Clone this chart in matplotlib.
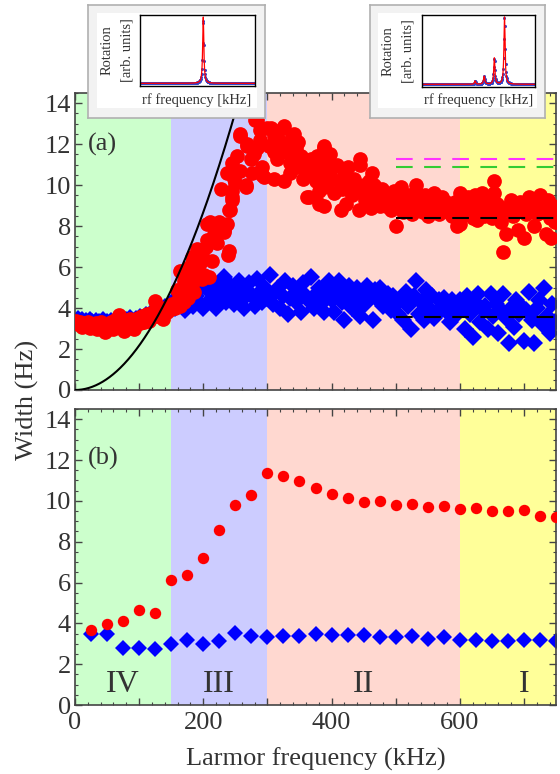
import numpy as np
import matplotlib
matplotlib.use('Agg')
import matplotlib.pyplot as plt
from matplotlib.ticker import MultipleLocator, FuncFormatter

plt.rcParams['font.family'] = ['Liberation Serif', 'DejaVu Serif']

# regions of the Larmor frequency axis (kHz)
region_edges = [0, 150, 300, 600, 800]
region_names = ['IV', 'III', 'II', 'I']
region_colors = ['#ccffcc', '#ccccff', '#ffd8d0', '#ffff99']

# panel (a): single measurements, low-frequency part (x on a 3 kHz grid)
low_x = np.arange(2, 150, 3)
red_low_y = [3.35, 3.2, 3.3, 3.1, 3.25, 3.15, 3.3, 3.05, 3.2, 3.1,
             3.25, 3.0, 3.15, 3.3, 3.05, 2.85, 3.2, 3.1, 3.3, 3.0,
             3.4, 3.15, 3.65, 3.2, 3.05, 2.9, 3.3, 3.1, 3.45, 3.2,
             3.0, 3.35, 3.5, 3.25, 3.6, 3.3, 3.45, 3.7, 3.35, 3.55,
             3.8, 4.35, 3.6, 3.9, 3.7, 3.45, 4.0, 3.8, 4.1, 3.95]
blue_low_y = [3.3, 3.45, 3.25, 3.4, 3.15, 3.35, 3.2, 3.4, 3.3, 3.15,
              3.35, 3.1, 3.3, 3.2, 3.4, 3.0, 3.3, 3.2, 3.35, 3.1,
              3.3, 3.4, 3.25, 3.15, 3.35, 3.0, 3.4, 3.25, 3.5, 3.3,
              3.1, 3.45, 3.35, 3.55, 3.45, 3.35, 3.65, 3.5, 3.45, 3.75,
              3.6, 3.85, 3.7, 3.8, 3.95, 3.65, 4.05, 3.9, 4.15, 3.95]

# red points in region III
red_iii_x = [152, 156, 159, 160, 163, 164, 166, 170, 170, 173,
             175, 176, 178, 180, 182, 183, 185, 185, 188, 190,
             192, 195, 198, 201, 201, 204, 206, 206, 209, 211,
             214, 216, 221, 222, 224, 224, 227, 232, 232, 237,
             237, 239, 240, 240, 242, 245, 245, 245, 245, 248,
             250, 253, 258, 258, 258, 266, 266, 268, 268, 274,
             276, 279, 281, 284, 284, 289, 289, 292, 292, 294]
red_iii_y = [4.2, 4.0, 4.9, 4.4, 4.1, 5.8, 4.6, 4.3, 5.3, 4.8,
             5.7, 4.5, 6.0, 5.0, 6.5, 5.6, 5.3, 4.8, 6.1, 6.9,
             5.8, 6.2, 5.4, 6.4, 5.6, 7.0, 7.3, 8.1, 5.5, 8.2,
             6.3, 7.6, 7.2, 7.7, 8.2, 7.9, 9.8, 7.7, 7.8, 8.1,
             10.6, 6.6, 8.8, 6.8, 8.8, 9.3, 9.7, 9.4, 11.1, 10.3,
             10.1, 11.4, 10.7, 12.4, 12.5, 10.0, 9.9, 11.9, 12.0, 11.3,
             10.6, 11.5, 13.2, 11.8, 13.2, 12.7, 12.2, 10.9, 10.5, 10.4]

# red points in region II
red_ii_x = [300, 305, 310, 310, 310, 315, 320, 325, 326, 326,
            331, 336, 336, 339, 341, 341, 345, 350, 352, 357,
            360, 362, 362, 365, 368, 373, 375, 380, 380, 383,
            388, 388, 388, 388, 388, 388, 393, 398, 398, 404,
            409, 414, 419, 422, 424, 428, 432, 435, 440, 443,
            445, 445, 450, 452, 456, 461, 463, 466, 470, 474,
            478, 482, 485, 487, 490, 493, 497, 500, 502, 505,
            508, 511, 514, 518, 521, 525, 528, 531, 534, 537,
            539, 542, 545, 548, 550, 553, 556, 560, 562, 565,
            568, 572, 575, 578, 581, 584, 588, 592, 594, 596, 599,
            303, 318, 329, 344, 348, 355, 370, 377, 395, 402,
            412, 417, 426, 437, 448, 458, 468, 476, 495]
red_ii_y = [12.8, 12.8, 12.4, 11.6, 10.3, 11.3, 11.7, 12.8, 12.9, 10.2,
            11.6, 11.1, 10.6, 12.4, 12.5, 11.5, 11.8, 11.2, 11.4, 11.0,
            10.8, 10.5, 9.4, 9.4, 11.3, 11.0, 10.2, 9.7, 9.1, 10.5,
            11.8, 10.9, 11.9, 11.2, 9.9, 9.0, 10.0, 11.5, 10.5, 9.6,
            11.0, 8.8, 10.5, 9.1, 9.8, 10.1, 9.5, 10.3, 9.7, 8.8,
            11.3, 11.0, 10.0, 9.3, 9.7, 8.9, 10.6, 10.0, 9.4, 9.6,
            9.8, 9.2, 9.0, 9.5, 9.3, 8.8, 9.7, 8.0, 9.1, 9.4,
            9.9, 8.7, 9.2, 9.0, 9.5, 8.6, 9.3, 10.0, 8.9, 9.4,
            9.2, 8.7, 9.5, 9.0, 8.5, 9.3, 8.8, 9.6, 9.1, 9.0,
            8.6, 9.4, 8.9, 9.2, 8.7, 9.0, 8.5, 9.2, 8.8, 8.0, 9.0,
            11.9, 12.2, 12.0, 10.9, 12.1, 10.3, 10.7, 11.4, 10.8, 10.9,
            10.2, 9.8, 10.9, 9.9, 9.6, 10.2, 9.5, 9.0, 9.2]

# red points in region I
red_i_x = [601, 601, 601, 605, 610, 613, 617, 620, 624, 627,
           627, 631, 635, 638, 643, 646, 650, 654, 654, 654,
           658, 662, 664, 667, 669, 672, 676, 680, 683, 687,
           690, 694, 698, 700, 704, 708, 711, 714, 716, 719,
           721, 725, 729, 734, 737, 740, 742, 742, 746, 749]
red_i_y = [9.6, 8.8, 8.1, 9.2, 8.6, 9.4, 9.0, 8.4, 9.5, 9.3,
           8.3, 8.9, 9.6, 8.5, 8.9, 9.2, 8.4, 10.2, 9.6, 8.6,
           9.1, 8.8, 8.2, 6.75, 8.8, 7.6, 9.0, 9.3, 8.5, 8.9,
           7.8, 9.2, 9.0, 7.4, 8.6, 9.4, 9.3, 8.8, 8.0, 9.1,
           8.6, 9.5, 8.7, 7.6, 9.3, 8.4, 8.8, 7.4, 9.0, 8.2]

# blue points above 150 kHz (x on a 4 kHz grid)
high_x = np.arange(152, 749, 4)
blue_high_y = [4.3, 4.0, 4.5, 4.2, 4.7, 3.9, 4.4, 4.8, 4.1, 4.6, 4.3, 5.0, 4.0,
               4.2, 4.9, 5.3, 4.5, 4.0, 5.0, 4.6, 5.5, 4.3, 4.8,
               5.1, 4.2, 4.7, 5.3, 4.4, 4.0, 4.9, 5.2, 4.6, 4.1,
               5.4, 4.8, 4.3, 5.0, 4.5,
               5.6, 4.2, 4.8, 5.0, 4.0, 4.6, 5.3, 3.7, 4.5, 5.1,
               4.3, 4.9, 3.8, 5.2, 4.6, 4.4, 5.5, 4.0, 4.7, 5.0,
               4.2, 3.8, 4.8, 5.3, 4.4,
               3.8, 4.9, 5.3, 4.3, 3.4, 4.7, 5.1, 4.0, 4.5, 5.0,
               3.6, 4.8, 4.2, 5.1, 4.6, 3.4, 4.9, 4.4, 5.0, 4.1,
               4.3, 4.7, 3.9, 4.6, 4.2,
               3.7, 4.5, 3.4, 4.8, 4.1, 3.0, 4.6, 5.3, 3.7, 4.3,
               3.4, 4.9, 4.0, 4.6, 3.5, 3.7, 4.4, 4.1, 4.5, 3.8,
               3.3, 4.4, 3.6, 4.0, 4.4,
               4.1, 3.0, 4.6, 3.7, 2.6, 4.3, 4.7, 3.3, 3.9, 4.1,
               3.0, 4.7, 3.6, 4.2, 2.8, 3.9, 4.7, 3.5, 2.3, 4.0,
               3.1, 4.4, 3.7, 4.1, 2.4, 3.9, 4.8, 3.4, 2.3, 4.0,
               4.4, 3.2, 5.0, 3.6, 2.8, 4.2, 3.3]

# quadratic model curve, width = coef * f^2
curve_coef = 2.17e-4

# dashed reference levels (x from 500 kHz)
level_start = 500
level_values = [11.3, 10.9, 8.4, 3.55]
level_colors = ['#ff33ff', '#33cc33', 'black', 'black']

# panel (b): averaged widths
larmor_b = np.arange(25, 751, 25)
red_b = [3.66, 3.98, 4.1, 4.63, 4.52, 6.13, 6.37, 7.2, 8.58, 9.8,
         10.3, 11.38, 11.22, 10.98, 10.65, 10.36, 10.13, 9.92, 9.97, 9.8,
         9.84, 9.71, 9.76, 9.59, 9.63, 9.48, 9.51, 9.54, 9.25, 9.22]
blue_b = [3.5, 3.5, 2.81, 2.81, 2.73, 3.0, 3.17, 3.0, 3.14, 3.53,
          3.37, 3.33, 3.38, 3.38, 3.46, 3.41, 3.41, 3.41, 3.33, 3.33,
          3.37, 3.25, 3.33, 3.2, 3.2, 3.14, 3.14, 3.17, 3.2, 3.14]

# inset spectra: lorentzian peaks (centre, height, half width) in relative rf units
left_peaks = [(0.55, 1.0, 0.006)]
right_peaks = [(0.47, 0.05, 0.006), (0.55, 0.12, 0.007), (0.64, 0.39, 0.006), (0.73, 1.0, 0.006)]

W, H = 560, 774
text_col = '#333333'


def px_box(x0, y0, x1, y1):
    return [x0 / W, 1 - y1 / H, (x1 - x0) / W, (y1 - y0) / H]


def style_axes(ax, show_xlabels):
    for i in range(len(region_names)):
        ax.axvspan(region_edges[i], region_edges[i + 1], color=region_colors[i], lw=0, zorder=0)
    ax.set_xlim(0, 750)
    ax.set_ylim(0, 14.5)
    ax.xaxis.set_major_locator(MultipleLocator(100))
    ax.xaxis.set_minor_locator(MultipleLocator(20))
    ax.yaxis.set_major_locator(MultipleLocator(2))
    ax.yaxis.set_minor_locator(MultipleLocator(0.5))
    ax.xaxis.set_major_formatter(FuncFormatter(
        lambda v, p: f'{v:.0f}' if (show_xlabels and abs(v % 200) < 1e-6) else ''))
    ax.tick_params(which='both', direction='in', top=True, right=True,
                   colors='#444444', labelcolor=text_col, labelsize=19)
    ax.tick_params(which='major', length=5, width=1)
    ax.tick_params(which='minor', length=2.5, width=0.8)
    ax.tick_params(axis='y', pad=3)
    ax.tick_params(axis='x', pad=5)
    for s in ax.spines.values():
        s.set_color('#444444')
        s.set_linewidth(1.2)


fig = plt.figure(figsize=(W / 100, H / 100), dpi=100)

ax_a = fig.add_axes(px_box(75, 93, 556, 390))
ax_b = fig.add_axes(px_box(75, 409, 556, 705))
style_axes(ax_a, False)
style_axes(ax_b, True)

# panel (a)
ax_a.plot(low_x, blue_low_y, 'D', color='#0000ff', ms=9.6, mew=0, zorder=2)
ax_a.plot(high_x, blue_high_y, 'D', color='#0000ff', ms=9.6, mew=0, zorder=2)
for xs, ys in [(low_x, red_low_y), (red_iii_x, red_iii_y), (red_ii_x, red_ii_y), (red_i_x, red_i_y)]:
    ax_a.plot(xs, ys, 'o', color='#ff0000', ms=10.6, mew=0, zorder=3)

f_curve = np.linspace(0, 270, 300)
ax_a.plot(f_curve, curve_coef * f_curve ** 2, color='black', lw=1.5, zorder=4)
for lvl, col in zip(level_values, level_colors):
    ax_a.plot([level_start, 750], [lvl, lvl], color=col, lw=1.5, dashes=(8, 5.5), zorder=5)
ax_a.text(20, 12.0, '(a)', fontsize=19, color=text_col, va='center', ha='left', zorder=6)

# panel (b)
ax_b.plot(larmor_b, blue_b, 'D', color='#0000ff', ms=7.8, mew=0, zorder=2)
ax_b.plot(larmor_b, red_b, 'o', color='#ff0000', ms=8.2, mew=0, zorder=3)
ax_b.text(20, 12.1, '(b)', fontsize=19, color=text_col, va='center', ha='left', zorder=6)
for i, name in enumerate(region_names):
    ax_b.text((region_edges[i] + region_edges[i + 1]) / 2, 1.0, name, fontsize=23,
              color=text_col, ha='center', va='center')
ax_b.set_xlabel('Larmor frequency (kHz)', fontsize=19, color=text_col, labelpad=10)
fig.text(27 / W, 1 - 400 / H, 'Width (Hz)', rotation=90, fontsize=19, color=text_col,
         ha='center', va='center')


def lorentz_sum(f, peaks):
    total = np.zeros_like(f)
    for c, h, w in peaks:
        total += h * w ** 2 / ((f - c) ** 2 + w ** 2)
    return total


def draw_inset(outer, inner, plot_box, rot_x, rf_x, peaks):
    bg = fig.add_axes(px_box(*outer))
    bg.set_facecolor('#f2f2f2')
    bg.set_xticks([])
    bg.set_yticks([])
    for s in bg.spines.values():
        s.set_color('#b0b0b0')
        s.set_linewidth(1.2)
    wh = fig.add_axes(px_box(*inner))
    wh.set_facecolor('white')
    wh.set_xticks([])
    wh.set_yticks([])
    for s in wh.spines.values():
        s.set_visible(False)
    ip = fig.add_axes(px_box(*plot_box))
    f_pts = np.linspace(0, 1, 300)
    f_fine = np.linspace(0, 1, 4000)
    ip.plot(f_pts, lorentz_sum(f_pts, peaks), 'o', color='#3344cc', ms=2.2, mew=0)
    ip.plot(f_fine, lorentz_sum(f_fine, peaks), color='#ff0000', lw=0.9)
    ip.set_xlim(0, 1)
    ip.set_ylim(-0.04, 1.03)
    ip.set_xticks([])
    ip.set_yticks([])
    for s in ip.spines.values():
        s.set_color('black')
        s.set_linewidth(1)
    yc = 1 - ((plot_box[1] + plot_box[3]) / 2) / H
    fig.text(rot_x[0] / W, yc, 'Rotation', rotation=90, fontsize=10.5, color=text_col,
             ha='center', va='center')
    fig.text(rot_x[1] / W, yc, '[arb. units]', rotation=90, fontsize=10.5, color=text_col,
             ha='center', va='center')
    fig.text(rf_x / W, 1 - 100 / H, 'rf frequency [kHz]', fontsize=10.5, color=text_col,
             ha='center', va='center')


draw_inset((88, 5, 265, 118), (97, 13, 257, 108), (140, 15, 255, 86), (107, 127), 197, left_peaks)
draw_inset((370, 5, 545, 118), (378, 13, 537, 108), (422, 15, 535, 87), (388, 408), 479, right_peaks)

fig.savefig('out.png', dpi=100)
